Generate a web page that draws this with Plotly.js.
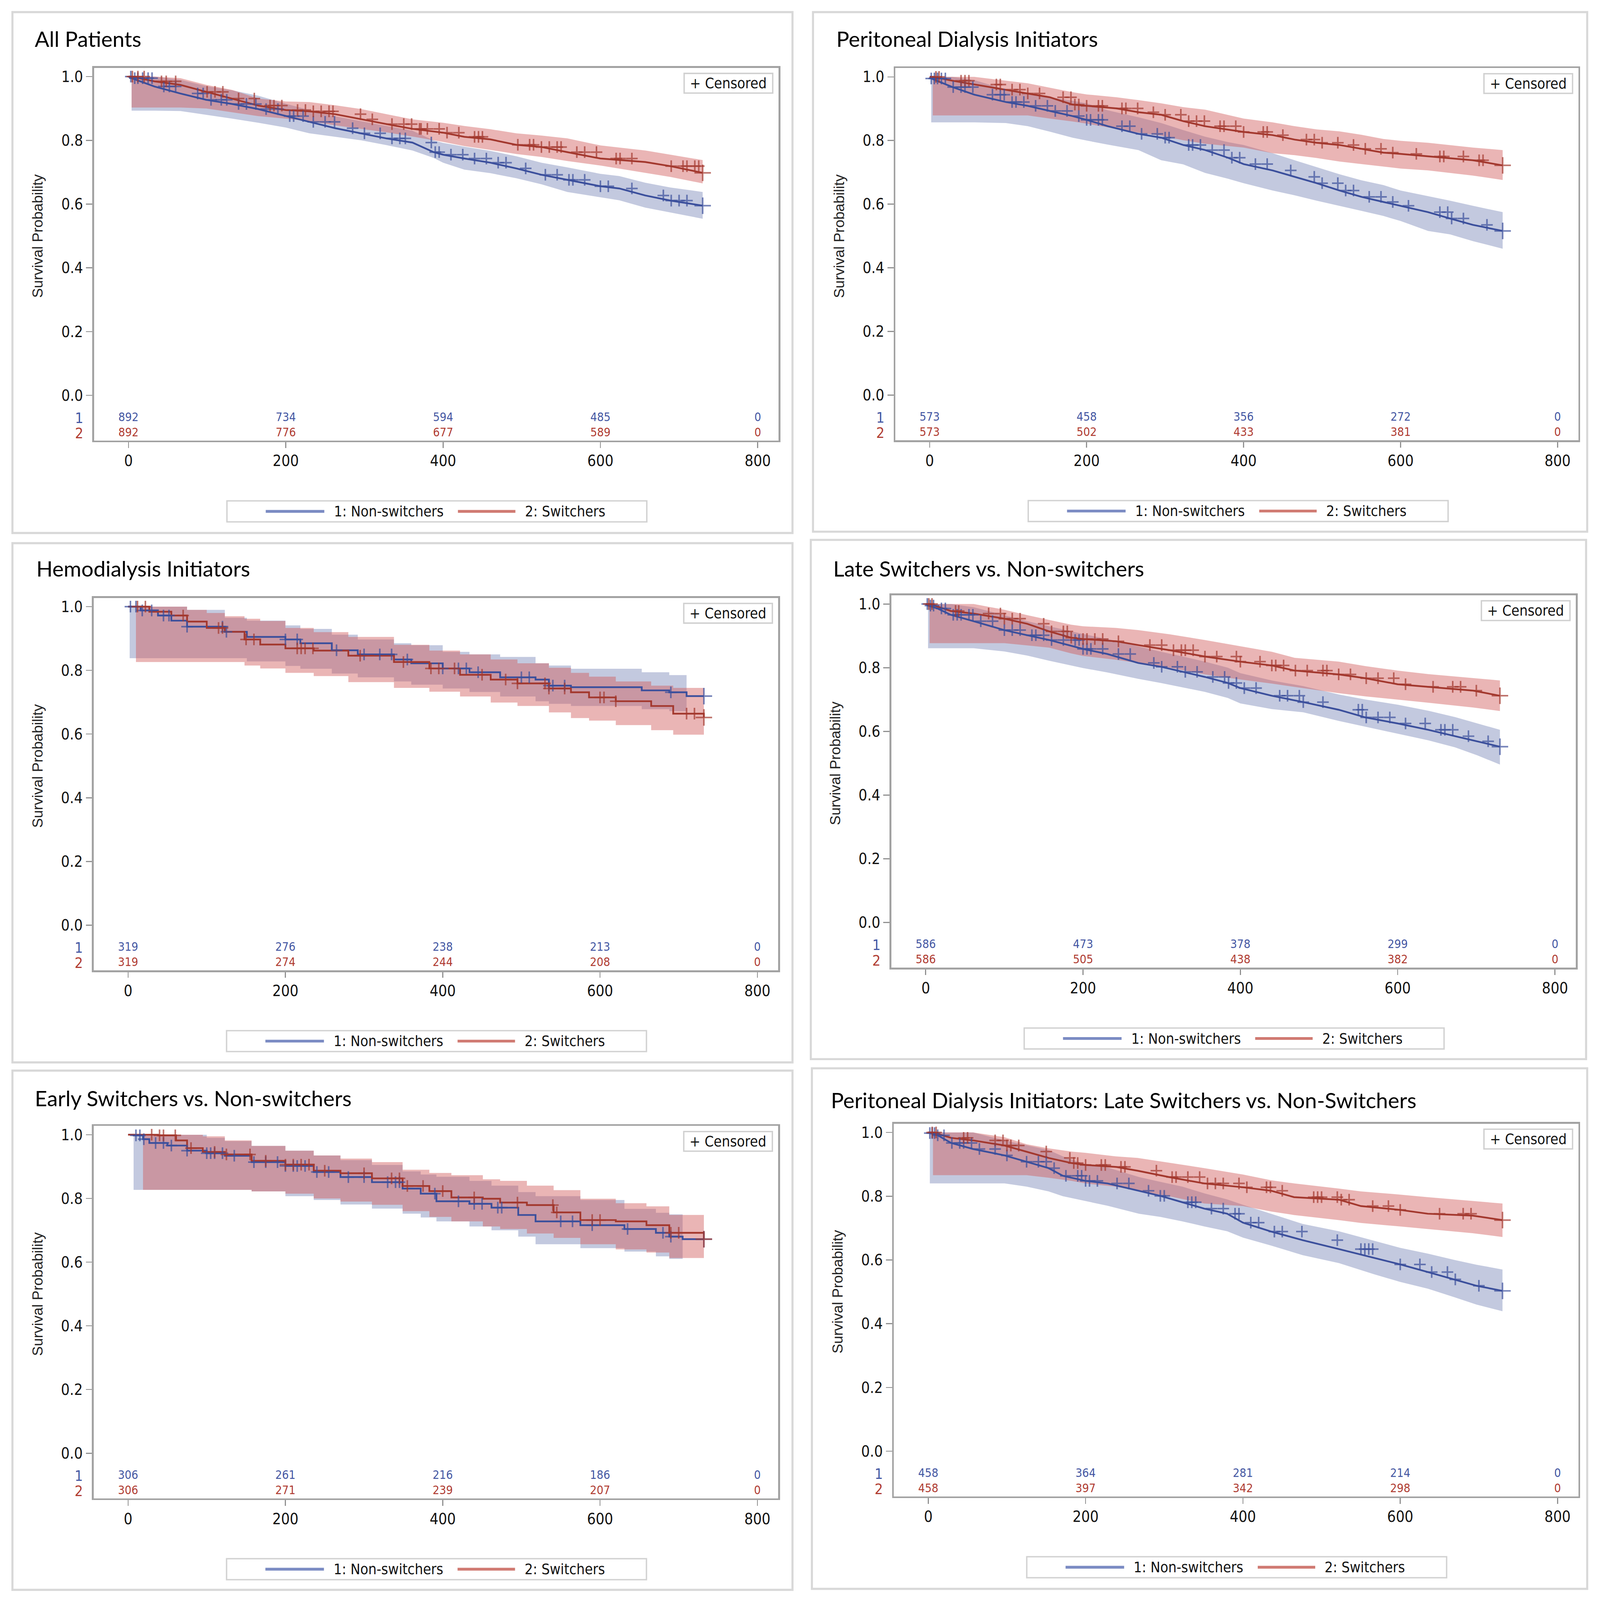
<!DOCTYPE html>
<html>
<head>
<meta charset="utf-8">
<script src="https://cdn.plot.ly/plotly-3.0.1.min.js"></script>
<style>html,body{margin:0;padding:0;background:#fff;overflow:hidden;}</style>
</head>
<body>
<div id="chart"></div>
<script>
// ---------------- DATA ----------------
const panelTitles = [
  "All Patients",
  "Peritoneal Dialysis Initiators",
  "Hemodialysis Initiators",
  "Late Switchers vs. Non-switchers",
  "Early Switchers vs. Non-switchers",
  "Peritoneal Dialysis Initiators: Late Switchers vs. Non-Switchers"
];
const groupNames = ["1: Non-switchers", "2: Switchers"];
const riskTimes = [0, 200, 400, 600, 800];
const xTicks = [0, 200, 400, 600, 800];
const yTicks = [0, 0.2, 0.4, 0.6, 0.8, 1.0];
const yTickText = ["0.0", "0.2", "0.4", "0.6", "0.8", "1.0"];

// Panel 1: All Patients
const p1BlueT  = [0,4,33,66,99,132,165,200,230,263,296,328,361,388,400,427,460,493,525,558,600,624,657,689,730];
const p1BlueS  = [1.0,0.995,0.969,0.947,0.927,0.914,0.898,0.876,0.858,0.838,0.822,0.806,0.793,0.763,0.755,0.743,0.730,0.712,0.692,0.676,0.656,0.649,0.627,0.611,0.595];
const p1BlueLo = [null,0.893,0.893,0.892,0.880,0.868,0.855,0.840,0.822,0.811,0.800,0.785,0.768,0.745,0.730,0.708,0.697,0.681,0.662,0.638,0.622,0.612,0.589,0.574,0.554];
const p1BlueHi = [null,1.0,1.0,0.99,0.97,0.957,0.94,0.915,0.895,0.875,0.86,0.845,0.83,0.80,0.792,0.78,0.767,0.75,0.73,0.715,0.695,0.688,0.667,0.652,0.638];
const p1BlueCens = [3,8,12,18,25,30,45,52,60,88,95,105,118,125,140,150,162,175,190,205,210,222,235,250,262,285,300,320,335,345,352,385,390,395,410,425,440,455,470,480,505,530,545,560,565,580,600,610,640,680,690,700,710,730];
const p1RedT  = [0,4,33,66,99,132,165,200,230,263,296,328,361,400,427,460,493,525,558,600,657,689,730];
const p1RedS  = [1.0,1.0,0.985,0.974,0.952,0.931,0.909,0.895,0.891,0.882,0.866,0.851,0.836,0.824,0.811,0.803,0.786,0.779,0.763,0.743,0.732,0.719,0.698];
const p1RedLo = [null,0.903,0.903,0.903,0.900,0.888,0.876,0.868,0.860,0.847,0.836,0.825,0.812,0.795,0.782,0.770,0.757,0.748,0.735,0.721,0.698,0.685,0.665];
const p1RedHi = [null,1.0,1.0,0.995,0.974,0.958,0.931,0.922,0.920,0.910,0.898,0.882,0.866,0.855,0.845,0.835,0.822,0.815,0.806,0.784,0.768,0.755,0.738];
const p1RedCens = [5,12,20,42,48,60,100,110,120,140,160,180,185,195,215,225,235,245,255,260,295,310,335,350,360,370,372,380,395,405,420,440,445,450,495,510,515,525,535,545,550,570,580,595,620,625,640,690,705,710,720,725,730];
const p1RiskBlue = [892,734,594,485,0];
const p1RiskRed  = [892,776,677,589,0];

// Panel 2: Peritoneal Dialysis Initiators
const p2BlueT  = [0,2,29,57,97,125,153,182,200,227,266,295,323,351,380,400,437,465,493,522,550,578,600,635,663,692,730];
const p2BlueS  = [1.0,0.995,0.968,0.944,0.921,0.909,0.893,0.877,0.865,0.845,0.821,0.809,0.786,0.770,0.746,0.726,0.706,0.686,0.666,0.643,0.623,0.607,0.595,0.575,0.555,0.535,0.516];
const p2BlueLo = [null,0.857,0.857,0.857,0.855,0.845,0.828,0.809,0.800,0.787,0.770,0.738,0.725,0.698,0.680,0.666,0.643,0.628,0.611,0.595,0.579,0.563,0.547,0.516,0.505,0.484,0.460];
const p2BlueHi = [null,1.0,1.0,0.99,0.96,0.948,0.936,0.925,0.917,0.895,0.873,0.855,0.833,0.812,0.795,0.786,0.76,0.738,0.716,0.694,0.675,0.66,0.643,0.625,0.611,0.595,0.575];
const p2BlueCens = [2,6,10,15,20,30,40,45,55,80,90,95,105,110,120,135,150,160,175,190,200,205,215,220,245,255,270,290,300,305,330,335,345,360,375,385,395,415,430,460,490,500,520,530,540,560,575,590,610,650,660,665,680,710,730];
const p2RedT  = [0,4,29,57,97,125,153,182,200,238,266,295,323,351,400,437,465,493,522,550,578,600,635,692,730];
const p2RedS  = [1.0,1.0,0.988,0.976,0.960,0.948,0.936,0.913,0.909,0.901,0.889,0.881,0.861,0.845,0.827,0.817,0.803,0.793,0.786,0.774,0.762,0.758,0.750,0.738,0.722];
const p2RedLo = [null,0.879,0.879,0.879,0.879,0.879,0.869,0.860,0.853,0.837,0.825,0.815,0.801,0.790,0.778,0.760,0.754,0.745,0.734,0.726,0.718,0.712,0.706,0.690,0.676];
const p2RedHi = [null,1.0,1.0,1.0,0.988,0.98,0.966,0.952,0.945,0.936,0.927,0.917,0.905,0.897,0.869,0.857,0.845,0.835,0.829,0.818,0.805,0.799,0.793,0.778,0.770];
const p2RedCens = [8,12,40,45,50,85,90,105,115,125,140,170,180,185,190,200,215,220,245,250,265,285,300,320,330,340,350,370,375,390,400,425,430,450,480,490,500,520,540,555,575,590,620,650,655,680,700,705,730];
const p2RiskBlue = [573,458,356,272,0];
const p2RiskRed  = [573,502,433,381,0];

// Panel 3: Hemodialysis Initiators
const p3BlueT  = [0,2,16,38,55,75,123,151,200,219,259,292,338,360,400,434,473,518,535,563,653,688,710,732];
const p3BlueS  = [1.0,1.0,0.988,0.972,0.956,0.937,0.921,0.905,0.897,0.885,0.863,0.850,0.834,0.822,0.806,0.794,0.778,0.771,0.752,0.747,0.737,0.731,0.719,0.719];
const p3BlueLo = [null,0.838,0.838,0.838,0.838,0.838,0.838,0.828,0.814,0.805,0.790,0.778,0.765,0.755,0.743,0.732,0.718,0.703,0.695,0.688,0.678,0.672,0.664,null];
const p3BlueHi = [null,1.0,1.0,1.0,1.0,0.99,0.965,0.956,0.941,0.93,0.912,0.897,0.885,0.879,0.858,0.85,0.842,0.822,0.815,0.805,0.794,0.785,0.778,null];
const p3BlueCens = [3,10,18,30,45,52,75,120,125,200,215,265,300,320,335,355,400,420,430,445,500,510,535,540,555,690,732];
const p3RedT  = [0,10,27,55,75,100,123,148,168,200,236,280,338,383,422,461,495,535,563,586,620,665,693,732];
const p3RedS  = [1.0,1.0,0.984,0.972,0.953,0.933,0.921,0.897,0.881,0.869,0.862,0.846,0.826,0.806,0.786,0.771,0.759,0.743,0.731,0.715,0.703,0.688,0.664,0.652];
const p3RedLo = [null,0.826,0.826,0.826,0.826,0.826,0.826,0.815,0.806,0.792,0.782,0.763,0.745,0.733,0.718,0.699,0.688,0.668,0.650,0.642,0.628,0.612,0.598,0.585];
const p3RedHi = [null,1.0,1.0,1.0,0.99,0.98,0.97,0.962,0.955,0.933,0.92,0.905,0.88,0.862,0.85,0.834,0.822,0.808,0.792,0.78,0.765,0.752,0.745,0.735];
const p3RedCens = [12,22,70,115,120,150,160,215,220,225,235,295,350,385,395,415,450,480,495,530,535,555,600,605,620,710,720,732];
const p3RiskBlue = [319,276,238,213,0];
const p3RiskRed  = [319,274,244,208,0];

// Panel 4: Late Switchers vs. Non-switchers
const p4BlueT  = [0,3,15,32,61,100,129,157,200,231,270,299,327,355,384,400,440,480,525,559,600,639,673,701,730];
const p4BlueS  = [1.0,0.995,0.986,0.966,0.946,0.918,0.902,0.887,0.859,0.843,0.815,0.803,0.787,0.771,0.752,0.736,0.712,0.692,0.668,0.644,0.625,0.605,0.585,0.569,0.552];
const p4BlueLo = [null,0.861,0.861,0.861,0.861,0.851,0.838,0.822,0.799,0.785,0.765,0.752,0.738,0.724,0.705,0.688,0.670,0.660,0.633,0.615,0.593,0.572,0.550,0.525,0.496];
const p4BlueHi = [null,1.0,1.0,1.0,0.99,0.965,0.946,0.93,0.906,0.89,0.867,0.85,0.835,0.819,0.80,0.783,0.76,0.742,0.716,0.70,0.684,0.665,0.645,0.625,0.605];
const p4BlueCens = [2,6,10,20,25,35,40,45,55,60,70,85,100,110,120,135,140,150,160,175,190,195,200,205,210,225,245,260,290,300,320,330,345,365,380,385,395,405,420,450,460,475,480,505,550,555,560,575,590,610,635,655,660,670,690,715,730];
const p4RedT  = [0,5,32,61,100,129,157,185,200,242,270,310,355,400,440,469,525,559,600,639,696,730];
const p4RedS  = [1.0,1.0,0.978,0.970,0.954,0.938,0.914,0.894,0.890,0.883,0.871,0.855,0.835,0.819,0.807,0.791,0.779,0.767,0.748,0.740,0.728,0.712];
const p4RedLo = [null,0.877,0.877,0.877,0.877,0.870,0.863,0.845,0.837,0.825,0.815,0.800,0.779,0.763,0.750,0.740,0.720,0.710,0.700,0.690,0.675,0.664];
const p4RedHi = [null,1.0,1.0,1.0,0.982,0.965,0.95,0.935,0.930,0.925,0.918,0.905,0.887,0.867,0.85,0.831,0.819,0.805,0.791,0.78,0.768,0.760];
const p4RedCens = [4,8,38,42,80,95,100,110,120,150,160,175,180,185,200,205,215,225,245,285,300,315,325,330,340,355,370,395,400,425,440,445,455,470,485,505,510,525,540,560,575,595,610,645,670,680,700,730];
const p4RiskBlue = [586,473,378,299,0];
const p4RiskRed  = [586,505,438,382,0];

// Panel 5: Early Switchers vs. Non-switchers
const p5BlueT  = [0,7,19,27,50,75,100,123,157,200,236,270,310,349,372,392,434,462,496,518,575,631,671,688,705,732];
const p5BlueS  = [1.0,0.998,0.986,0.974,0.966,0.950,0.942,0.934,0.914,0.902,0.883,0.867,0.851,0.831,0.815,0.791,0.783,0.771,0.748,0.728,0.716,0.704,0.692,0.680,0.672,0.672];
const p5BlueLo = [null,0.827,0.827,0.827,0.827,0.827,0.827,0.827,0.822,0.807,0.795,0.781,0.768,0.752,0.740,0.728,0.712,0.700,0.680,0.656,0.644,0.633,0.618,0.610,0.605,null];
const p5BlueHi = [null,1.0,1.0,1.0,1.0,1.0,0.99,0.98,0.965,0.95,0.935,0.92,0.905,0.885,0.875,0.868,0.855,0.84,0.82,0.807,0.795,0.767,0.755,0.75,0.744,null];
const p5BlueCens = [10,15,20,35,45,55,75,100,105,110,120,135,160,175,190,200,210,215,225,240,255,280,300,330,340,345,390,420,440,450,470,475,550,565,590,635,680,690,732];
const p5RedT  = [0,19,38,61,75,95,123,157,200,236,270,310,349,383,411,451,473,507,541,575,620,659,688,732];
const p5RedS  = [1.0,1.0,0.998,0.982,0.958,0.946,0.938,0.918,0.906,0.887,0.879,0.863,0.839,0.823,0.803,0.799,0.787,0.779,0.756,0.732,0.728,0.716,0.692,0.672];
const p5RedLo = [null,0.827,0.827,0.827,0.827,0.827,0.827,0.822,0.815,0.800,0.790,0.780,0.760,0.742,0.728,0.712,0.704,0.690,0.676,0.656,0.640,0.630,0.613,0.601];
const p5RedHi = [null,1.0,1.0,1.0,1.0,0.995,0.982,0.965,0.95,0.935,0.925,0.914,0.89,0.88,0.873,0.86,0.855,0.84,0.826,0.799,0.785,0.775,0.748,0.736];
const p5RedCens = [30,40,45,60,80,110,125,155,175,200,210,220,230,250,300,335,345,355,375,400,440,495,540,545,590,600,690,700,732];
const p5RiskBlue = [306,261,216,186,0];
const p5RiskRed  = [306,271,239,207,0];

// Panel 6: PD Initiators: Late Switchers vs. Non-Switchers
const p6BlueT  = [0,2,12,29,57,97,125,153,171,200,228,268,295,323,351,380,400,436,476,522,567,600,635,669,697,730];
const p6BlueS  = [1.0,0.998,0.991,0.967,0.948,0.928,0.908,0.888,0.864,0.848,0.840,0.817,0.801,0.781,0.761,0.745,0.717,0.689,0.662,0.634,0.606,0.586,0.562,0.539,0.519,0.503];
const p6BlueLo = [null,0.840,0.840,0.840,0.840,0.840,0.830,0.815,0.800,0.785,0.770,0.745,0.735,0.721,0.705,0.690,0.670,0.645,0.615,0.590,0.555,0.531,0.510,0.483,0.460,0.439];
const p6BlueHi = [null,1.0,1.0,1.0,1.0,0.975,0.96,0.945,0.925,0.9,0.89,0.86,0.845,0.83,0.809,0.79,0.773,0.745,0.713,0.69,0.66,0.638,0.62,0.6,0.585,0.570];
const p6BlueCens = [2,5,8,12,20,30,40,45,55,65,85,100,125,140,150,160,175,190,195,200,205,215,240,255,280,295,300,330,335,340,360,375,390,395,410,420,440,450,475,520,550,555,560,565,600,625,640,660,670,700,730];
const p6RedT  = [0,6,29,57,97,125,153,182,200,238,266,306,351,400,436,465,522,550,600,635,692,730];
const p6RedS  = [1.0,1.0,0.983,0.975,0.959,0.940,0.920,0.904,0.898,0.892,0.880,0.860,0.840,0.828,0.817,0.797,0.789,0.769,0.757,0.745,0.739,0.725];
const p6RedLo = [null,0.866,0.866,0.866,0.866,0.866,0.858,0.848,0.840,0.830,0.817,0.800,0.777,0.769,0.752,0.741,0.725,0.716,0.705,0.697,0.684,0.672];
const p6RedHi = [null,1.0,1.0,1.0,0.985,0.963,0.95,0.94,0.936,0.925,0.92,0.905,0.888,0.868,0.85,0.84,0.824,0.815,0.805,0.797,0.785,0.777];
const p6RedCens = [5,10,45,50,85,95,100,105,115,150,180,185,190,200,220,225,245,250,290,310,315,330,345,355,365,375,395,405,430,435,450,490,495,500,520,525,535,565,585,600,650,680,690,730];
const p6RiskBlue = [458,364,281,214,0];
const p6RiskRed  = [458,397,342,298,0];

// ---------------- LAYOUT GEOMETRY (reference pixels) ----------------
// The figure is laid out on the 4371x4884 reference grid and fills the actual window.
const REFW = 4371, REFH = 4884;
const W = window.innerWidth || REFW, H = window.innerHeight || REFH;
const SX = W / REFW, SY = H / REFH, SF = Math.sqrt(SX * SY);
document.getElementById("chart").style.width = W + "px";
document.getElementById("chart").style.height = H + "px";

const geom = [
  {plot:[257,2127,207,1345],  outer:[34,2165,37,1627],    title:[93,118],   shape:"linear"},
  {plot:[2446,4312,208,1344], outer:[2221,4336,37,1623],  title:[2283,118], shape:"linear"},
  {plot:[256,2126,1825,2962], outer:[34,2165,1658,3243],  title:[97,1735],  shape:"hv"},
  {plot:[2435,4305,1817,2954],outer:[2215,4333,1648,3233],title:[2274,1735],shape:"linear"},
  {plot:[256,2126,3437,4574], outer:[34,2165,3268,4853],  title:[93,3352],  shape:"hv"},
  {plot:[2442,4312,3430,4568],outer:[2218,4336,3261,4850],title:[2268,3358],shape:"linear"}
];
const panelData = [
  {b:[p1BlueT,p1BlueS,p1BlueLo,p1BlueHi,p1BlueCens], r:[p1RedT,p1RedS,p1RedLo,p1RedHi,p1RedCens], rb:p1RiskBlue, rr:p1RiskRed},
  {b:[p2BlueT,p2BlueS,p2BlueLo,p2BlueHi,p2BlueCens], r:[p2RedT,p2RedS,p2RedLo,p2RedHi,p2RedCens], rb:p2RiskBlue, rr:p2RiskRed},
  {b:[p3BlueT,p3BlueS,p3BlueLo,p3BlueHi,p3BlueCens], r:[p3RedT,p3RedS,p3RedLo,p3RedHi,p3RedCens], rb:p3RiskBlue, rr:p3RiskRed},
  {b:[p4BlueT,p4BlueS,p4BlueLo,p4BlueHi,p4BlueCens], r:[p4RedT,p4RedS,p4RedLo,p4RedHi,p4RedCens], rb:p4RiskBlue, rr:p4RiskRed},
  {b:[p5BlueT,p5BlueS,p5BlueLo,p5BlueHi,p5BlueCens], r:[p5RedT,p5RedS,p5RedLo,p5RedHi,p5RedCens], rb:p5RiskBlue, rr:p5RiskRed},
  {b:[p6BlueT,p6BlueS,p6BlueLo,p6BlueHi,p6BlueCens], r:[p6RedT,p6RedS,p6RedLo,p6RedHi,p6RedCens], rb:p6RiskBlue, rr:p6RiskRed}
];

// ---------------- STYLE ----------------
const NARROW = "DejaVu Sans Condensed, Liberation Sans Narrow, Arial Narrow, Liberation Sans, Arial, sans-serif";
const SANS = "Liberation Sans, Arial, sans-serif";
const TITLEF = "Lato, Carlito, Calibri, Open Sans, sans-serif";
const blueLine = "#3b4f9c", redLine = "#a3382e";
const blueFill = "rgba(111,126,179,0.42)", redFill = "rgba(208,91,91,0.45)";
const blueText = "#4457a3", redText = "#b03c32";
const legBlue = "#7b8bc3", legRed = "#d07a72";
const XR = [-43.7, 826.5], YR = [-0.142, 1.0275];
const RISK_Y1 = -0.071, RISK_Y2 = -0.119;

function px(x){ return x / REFW; }
function py(y){ return 1 - y / REFH; }
function z(v){ return v * SF; }
function stepAt(t, s, x){ let v = s[0]; for (let i = 0; i < t.length; i++){ if (t[i] <= x && s[i] != null) v = s[i]; else if (t[i] > x) break; } return v; }

const traces = [];
const layout = {
  width: W, height: H, autosize: false,
  margin: {l:0, r:0, t:0, b:0, pad:0},
  paper_bgcolor: "#ffffff", plot_bgcolor: "#ffffff",
  showlegend: false,
  shapes: [], annotations: []
};

geom.forEach((g, k) => {
  const sfx = k === 0 ? "" : String(k + 1);
  const xa = "x" + sfx, ya = "y" + sfx;
  const [pl, pr, pt, pb] = g.plot;
  const d = panelData[k];

  const axCommon = {
    showgrid:false, zeroline:false, showline:true, mirror:true,
    linecolor:"#a2a2a2", linewidth:z(5),
    ticks:"outside", tickwidth:z(3), tickcolor:"#909090",
    tickfont:{family:NARROW, size:z(44), color:"#111111"}, fixedrange:true
  };
  layout["xaxis" + sfx] = Object.assign({}, axCommon, {
    domain:[px(pl), px(pr)], range:XR, tickvals:xTicks, anchor:ya, ticklen:17 * SY
  });
  layout["yaxis" + sfx] = Object.assign({}, axCommon, {
    domain:[py(pb), py(pt)], range:YR, tickvals:yTicks, ticktext:yTickText, anchor:xa, ticklen:17 * SX
  });

  const groups = [
    {dat:d.b, line:blueLine, fill:blueFill},
    {dat:d.r, line:redLine, fill:redFill}
  ];
  groups.forEach(gr => {
    const [t, s, lo, hi] = gr.dat;
    const bt = [], bl = [], bh = [];
    t.forEach((v, i) => { if (lo[i] != null) { bt.push(v); bl.push(lo[i]); bh.push(hi[i]); } });
    traces.push({x:bt, y:bl, xaxis:xa, yaxis:ya, mode:"lines", line:{width:0, shape:g.shape}, hoverinfo:"skip"});
    traces.push({x:bt, y:bh, xaxis:xa, yaxis:ya, mode:"lines", line:{width:0, shape:g.shape}, fill:"tonexty", fillcolor:gr.fill, hoverinfo:"skip"});
  });
  groups.forEach(gr => {
    const [t, s] = gr.dat;
    traces.push({x:t, y:s, xaxis:xa, yaxis:ya, mode:"lines", line:{color:gr.line, width:z(5), shape:g.shape}});
  });
  groups.forEach(gr => {
    const [t, s, lo, hi, cens] = gr.dat;
    const cy = cens.map(c => stepAt(t, s, c));
    const sz = cens.map((c, i) => z(i === cens.length - 1 ? 34 : 24));
    traces.push({x:cens, y:cy, xaxis:xa, yaxis:ya, mode:"markers",
      marker:{symbol:"cross-thin", size:sz, color:gr.line, line:{color:gr.line, width:z(4.5)}}});
  });
  traces.push({x:riskTimes, y:riskTimes.map(() => RISK_Y1), text:d.rb.map(String), xaxis:xa, yaxis:ya,
    mode:"text", textposition:"middle center", cliponaxis:false,
    textfont:{family:NARROW, size:z(34), color:blueText}});
  traces.push({x:riskTimes, y:riskTimes.map(() => RISK_Y2), text:d.rr.map(String), xaxis:xa, yaxis:ya,
    mode:"text", textposition:"middle center", cliponaxis:false,
    textfont:{family:NARROW, size:z(34), color:redText}});

  const [ol, or_, ot, ob] = g.outer;
  layout.shapes.push({type:"rect", xref:"paper", yref:"paper", x0:px(ol), x1:px(or_), y0:py(ob), y1:py(ot),
    line:{color:"#d8d8d8", width:z(6)}, fillcolor:"rgba(0,0,0,0)", layer:"below"});

  layout.annotations.push({xref:"paper", yref:"paper", x:px(g.title[0]), y:py(g.title[1]), xanchor:"left", yanchor:"middle",
    text:panelTitles[k], showarrow:false, font:{family:TITLEF, size:z(62), color:"#000000"}});

  layout.annotations.push({xref:"paper", yref:ya, x:px(pl - 154), y:0.5, xanchor:"center", yanchor:"middle",
    text:"Survival Probability", textangle:-90, showarrow:false, font:{family:SANS, size:z(42), color:"#222222"}});

  layout.annotations.push({xref:"paper", yref:ya, x:px(pl - 28), y:RISK_Y1, xanchor:"right", yanchor:"middle",
    text:"1", showarrow:false, font:{family:NARROW, size:z(42), color:blueText}});
  layout.annotations.push({xref:"paper", yref:ya, x:px(pl - 28), y:RISK_Y2, xanchor:"right", yanchor:"middle",
    text:"2", showarrow:false, font:{family:NARROW, size:z(42), color:redText}});

  const cl = pr - 258, cr = pr - 16, ct = pt + 17, cb = pt + 77;
  layout.shapes.push({type:"rect", xref:"paper", yref:"paper", x0:px(cl), x1:px(cr), y0:py(cb), y1:py(ct),
    line:{color:"#d0d0d0", width:z(4)}, fillcolor:"#ffffff"});
  layout.annotations.push({xref:"paper", yref:"paper", x:px((cl + cr) / 2), y:py((ct + cb) / 2), xanchor:"center", yanchor:"middle",
    text:"+ Censored", showarrow:false, font:{family:NARROW, size:z(42), color:"#111111"}});

  const ll = pl + 363, lr = pl + 1510, lt = pb + 184, lb = pb + 248, lm = (lt + lb) / 2;
  layout.shapes.push({type:"rect", xref:"paper", yref:"paper", x0:px(ll), x1:px(lr), y0:py(lb), y1:py(lt),
    line:{color:"#d2d2d2", width:z(4)}, fillcolor:"rgba(0,0,0,0)"});
  layout.shapes.push({type:"line", xref:"paper", yref:"paper", x0:px(pl + 469), x1:px(pl + 629), y0:py(lm), y1:py(lm),
    line:{color:legBlue, width:z(8)}});
  layout.shapes.push({type:"line", xref:"paper", yref:"paper", x0:px(pl + 994), x1:px(pl + 1151), y0:py(lm), y1:py(lm),
    line:{color:legRed, width:z(8)}});
  layout.annotations.push({xref:"paper", yref:"paper", x:px(pl + 653), y:py(lm), xanchor:"left", yanchor:"middle",
    text:groupNames[0], showarrow:false, font:{family:NARROW, size:z(42), color:"#111111"}});
  layout.annotations.push({xref:"paper", yref:"paper", x:px(pl + 1175), y:py(lm), xanchor:"left", yanchor:"middle",
    text:groupNames[1], showarrow:false, font:{family:NARROW, size:z(42), color:"#111111"}});
});

Plotly.newPlot("chart", traces, layout, {staticPlot:true, displayModeBar:false});
</script>
</body>
</html>
